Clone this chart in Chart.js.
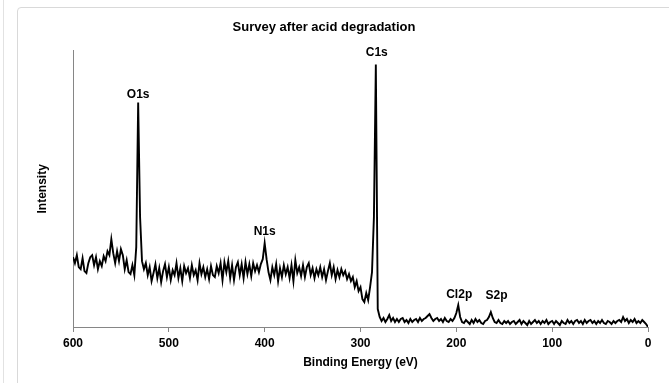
<!DOCTYPE html>
<html>
<head>
<meta charset="utf-8">
<script src="https://cdn.jsdelivr.net/npm/chart.js@4.4.0/dist/chart.umd.min.js"></script>
<style>
  html, body { margin: 0; padding: 0; background: #fff; }
  #wrap { position: relative; width: 669px; height: 383px; overflow: hidden; }
  #edge { position: absolute; left: 3px; top: 0; width: 1px; height: 383px; background: #e2e2e2; }
  #box { position: absolute; left: 17px; top: 7px; width: 700px; height: 420px; border: 1px solid #d9d9d9; border-radius: 4px; }
  #c { position: absolute; left: 0; top: 0; }
</style>
</head>
<body>
<div id="wrap">
  <div id="edge"></div>
  <div id="box"></div>
  <canvas id="c" width="669" height="383"></canvas>
</div>
<script>
// binding energy runs 600 -> 0 eV in 2 eV steps
var startEnergy = 600;
var energyStep = 2;

// intensity (arbitrary units), one row = 20 eV
var intensity = [
    70,64,72,60,58,69,56,54,64,70,     // 600-582
    72,62,70,58,66,61,71,66,76,72,     // 580-562
    88,74,64,76,66,78,72,58,67,55,     // 560-542
    53,62,52,80,225,110,66,58,64,52,   // 540-522  O1s
    60,46,54,63,49,59,45,56,63,50,     // 520-502
    60,47,57,52,64,49,59,46,61,54,     // 500-482
    59,49,62,52,57,47,64,53,60,50,     // 480-462
    58,48,61,52,50,61,54,64,47,65,     // 460-442
    55,66,49,62,47,60,65,52,63,49,     // 440-422
    65,53,63,51,64,56,62,55,63,68,     // 420-402
    84,68,55,47,60,52,63,46,59,50,     // 400-382
    62,53,60,49,62,46,67,54,60,51,     // 380-362
    62,50,60,64,52,59,49,58,52,60,     // 360-342
    50,58,47,56,64,52,60,48,57,50,     // 340-322
    58,52,56,48,53,46,50,40,46,36,     // 320-302
    40,28,25,34,27,40,55,110,263,18,   // 300-282  C1s
    10,6,9,5,8,12,6,9,5,8,             // 280-262
    5,8,9,5,7,4,8,5,7,8,               // 260-242
    5,9,6,8,9,11,13,9,6,8,             // 240-222
    9,6,8,5,9,6,5,8,6,9,               // 220-202
    14,22,10,5,4,7,5,3,7,4,            // 200-182  Cl2p
    8,5,7,4,3,6,7,10,15,9,             // 180-162  S2p
    5,4,7,4,3,6,4,6,3,5,               // 160-142
    6,3,5,7,3,6,4,2,6,3,               // 140-122
    5,7,4,6,3,6,4,7,3,5,               // 120-102
    6,3,6,4,2,6,4,3,7,4,               // 100-82
    6,3,6,7,4,6,3,7,4,6,               // 80-62
    7,4,6,3,6,4,7,4,3,6,               // 60-42
    5,3,6,4,6,7,5,10,6,8,              // 40-22
    4,7,5,8,4,6,4,7,5,3,               // 20-2
    0                                  // 0
];

// peak labels
var peakNames = ["O1s", "C1s", "N1s", "Cl2p", "S2p"];
var peakEnergies = [532, 283, 400, 197, 158];
var peakLabelLevels = [233, 275, 96, 32, 31];

var xTicks = [600, 500, 400, 300, 200, 100, 0];

var points = [];
for (var i = 0; i < intensity.length; i++) {
    points.push({x: startEnergy - i * energyStep, y: intensity[i]});
}

var fontFam = "'Liberation Sans', Arial, sans-serif";

var peakLabelPlugin = {
    id: 'peakLabels',
    afterDatasetsDraw: function(chart) {
        var ctx = chart.ctx;
        var xs = chart.scales.x, ys = chart.scales.y;
        ctx.save();
        ctx.font = "bold 12px " + fontFam;
        ctx.fillStyle = "#000";
        ctx.textAlign = "center";
        ctx.textBaseline = "middle";
        for (var i = 0; i < peakNames.length; i++) {
            ctx.fillText(peakNames[i], xs.getPixelForValue(peakEnergies[i]), ys.getPixelForValue(peakLabelLevels[i]));
        }
        ctx.restore();
    }
};

var ctx = document.getElementById("c").getContext('2d');
var chart = new Chart(ctx, {
    type: 'line',
    data: {
        datasets: [{
            label: "Survey",
            data: points,
            borderColor: "#000",
            borderWidth: 1.9,
            pointRadius: 0,
            tension: 0,
            fill: false
        }]
    },
    options: {
        responsive: false,
        animation: false,
        layout: { padding: { left: 0, right: 21, top: 0, bottom: 0 } },
        plugins: {
            legend: { display: false },
            tooltip: { enabled: false },
            title: {
                display: true,
                text: "Survey after acid degradation",
                color: "#000",
                font: { family: fontFam, size: 13, weight: 'bold' },
                padding: { top: 20, bottom: 15 }
            }
        },
        scales: {
            x: {
                type: 'linear',
                reverse: true,
                min: 0,
                max: 600,
                afterBuildTicks: function(s) { s.ticks = xTicks.map(function(v) { return {value: v}; }); },
                afterFit: function(s) { s.height = 56; },
                ticks: {
                    color: "#000",
                    font: { family: fontFam, size: 12, weight: 'bold' },
                    padding: 4,
                    maxRotation: 0,
                    autoSkip: false
                },
                grid: { drawOnChartArea: false, drawTicks: true, tickLength: 5, color: "#868686" },
                border: { display: true, color: "#868686", width: 1 },
                title: {
                    display: true,
                    text: "Binding Energy (eV)",
                    color: "#000",
                    font: { family: fontFam, size: 12, weight: 'bold' },
                    padding: { top: 0, bottom: 13 }
                }
            },
            y: {
                min: 0,
                max: 277,
                afterFit: function(s) { s.width = 73; },
                ticks: { display: false },
                grid: { display: false },
                border: { display: true, color: "#868686", width: 1 },
                title: {
                    display: true,
                    text: "Intensity",
                    color: "#000",
                    font: { family: fontFam, size: 12, weight: 'bold' },
                    padding: { top: 35, bottom: 0 }
                }
            }
        }
    },
    plugins: [peakLabelPlugin]
});
</script>
</body>
</html>
